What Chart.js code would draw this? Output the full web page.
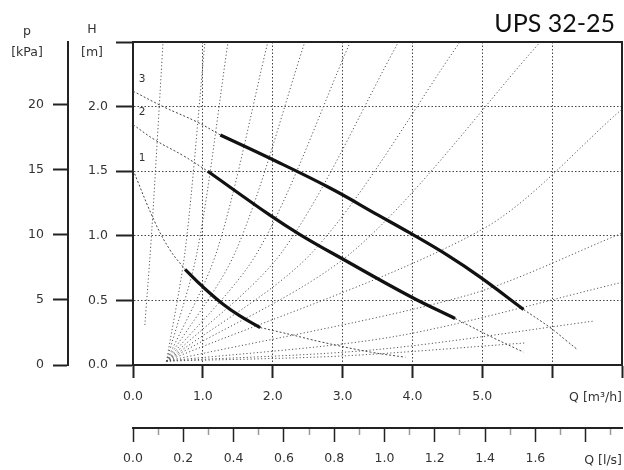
<!DOCTYPE html>
<html>
<head>
<meta charset="utf-8">
<script src="https://cdn.jsdelivr.net/npm/chart.js@4.4.1/dist/chart.umd.min.js"></script>
<style>
  html, body { margin: 0; padding: 0; background: #fff; }
  canvas { display: block; }
</style>
</head>
<body>
<canvas id="pumpChart" width="624" height="470"></canvas>
<script>
const chartTitle = "UPS 32-25";

// pump curves for speed 1..3, Q in m3/h, H in m
const q3 = [1.25, 1.96, 2.82, 3.51, 3.97, 4.50, 4.97, 5.59];
const h3 = [1.78, 1.60, 1.37, 1.16, 1.02, 0.85, 0.68, 0.43];
const q2 = [1.07, 1.96, 2.39, 2.97, 3.97, 4.61];
const h2 = [1.50, 1.16, 1.01, 0.83, 0.53, 0.36];
const q1 = [0.745, 0.99, 1.29, 1.53, 1.82];
const h1 = [0.74, 0.61, 0.47, 0.38, 0.29];

// dashed parts of the curves, before and after the working range
const q3a = [0, 0.43, 0.92, 1.25];
const h3a = [2.12, 2.00, 1.88, 1.78];
const q2a = [0, 0.32, 0.72, 1.07];
const h2a = [1.86, 1.74, 1.62, 1.50];
const q1a = [0, 0.31, 0.53, 0.745];
const h1a = [1.51, 1.11, 0.89, 0.74];
const q3b = [5.59, 5.97, 6.20, 6.36];
const h3b = [0.43, 0.29, 0.19, 0.12];
const q2b = [4.61, 5.16, 5.59];
const h2b = [0.36, 0.21, 0.10];
const q1b = [1.82, 2.30, 2.68, 3.40, 3.90];
const h1b = [0.29, 0.23, 0.18, 0.10, 0.06];

// dotted fan of background curves, all starting near the same point
const fanQ0 = 0.48;
const fanH0 = 0.03;
const fanMidQ = [0.75, 0.92, 1.20, 1.47, 1.79, 2.14, 2.58, 3.15, 5.00, 4.79, 3.74, 3.50, 3.00];
const fanMidH = [0.90, 0.88, 0.88, 0.88, 0.88, 0.88, 0.88, 0.88, 1.05, 0.54, 0.22, 0.12, 0.07];
const fanEndQ = [1.03, 1.36, 1.93, 2.46, 3.11, 3.80, 4.68, 5.83, 7.00, 7.00, 7.00, 6.60, 5.60];
const fanEndH = [2.50, 2.50, 2.50, 2.50, 2.50, 2.50, 2.50, 2.50, 1.98, 1.02, 0.64, 0.34, 0.17];
const steepQ = [0.17, 0.27, 0.43];
const steepH = [0.31, 1.05, 2.50];

const qMax = 7;
const hMax = 2.5;
const kpaMax = 24.8;
const lpsMax = qMax / 3.6;

const pts = (qs, hs) => qs.map((q, i) => ({ x: q, y: hs[i] }));

const thick = (qs, hs) => ({
  data: pts(qs, hs),
  showLine: true,
  borderColor: "#111",
  borderWidth: 3.2,
  pointRadius: 0,
  tension: 0.4,
});
const dashed = (qs, hs) => ({
  data: pts(qs, hs),
  showLine: true,
  borderColor: "#444",
  borderWidth: 1,
  borderDash: [2, 2],
  pointRadius: 0,
  tension: 0.4,
});
const dotted = (data) => ({
  data: data,
  showLine: true,
  borderColor: "#555",
  borderWidth: 1,
  borderDash: [1.2, 2.3],
  pointRadius: 0,
  tension: 0.3,
});

const datasets = [
  thick(q3, h3),
  thick(q2, h2),
  thick(q1, h1),
  dashed(q3a, h3a),
  dashed(q2a, h2a),
  dashed(q1a, h1a),
  dashed(q3b, h3b),
  dashed(q2b, h2b),
  dashed(q1b, h1b),
  dotted(pts(steepQ, steepH)),
];
fanEndQ.forEach((q, i) => {
  datasets.push(dotted([
    { x: fanQ0, y: fanH0 },
    { x: fanMidQ[i], y: fanMidH[i] },
    { x: q, y: fanEndH[i] },
  ]));
});

const tickFont = { family: "DejaVu Sans", size: 12.5 };
const ink = "#222";

// frame, title and unit labels
const notes = {
  id: "notes",
  afterDraw(chart) {
    const { ctx, chartArea: area, scales } = chart;
    ctx.save();
    ctx.strokeStyle = ink;
    ctx.lineWidth = 2;
    ctx.beginPath();
    ctx.moveTo(area.left, area.top);
    ctx.lineTo(area.right, area.top);
    ctx.lineTo(area.right, area.bottom);
    ctx.stroke();

    ctx.fillStyle = "#111";
    ctx.font = "25px Lato";
    ctx.textAlign = "right";
    ctx.textBaseline = "alphabetic";
    ctx.fillText(chartTitle, area.right - 7, area.top - 10);

    ctx.fillStyle = "#333";
    ctx.font = '12.5px "DejaVu Sans"';
    ctx.textAlign = "center";
    ctx.textBaseline = "middle";
    ctx.fillText("H", scales.y.left + 24, area.top - 12);
    ctx.fillText("[m]", scales.y.left + 24, area.top + 11);
    ctx.fillText("p", scales.yk.left + 27, area.top - 10);
    ctx.fillText("[kPa]", scales.yk.left + 27, area.top + 11);

    ctx.font = '10.5px "DejaVu Sans"';
    [[q3a, h3a, "3"], [q2a, h2a, "2"], [q1a, h1a, "1"]].forEach(([qs, hs, label]) => {
      ctx.fillText(label, scales.x.getPixelForValue(qs[0]) + 9, scales.y.getPixelForValue(hs[0]) - 12);
    });
    ctx.restore();
  },
};

const fixHeight = (h) => (s) => {
  s.height = h;
  s.paddingLeft = 0;
  s.paddingRight = 0;
};

new Chart(document.getElementById("pumpChart"), {
  type: "scatter",
  data: { datasets },
  options: {
    responsive: false,
    animation: false,
    layout: { padding: { left: 0, right: 2, top: 42, bottom: 0 } },
    plugins: { legend: { display: false }, tooltip: { enabled: false } },
    scales: {
      x: {
        type: "linear",
        position: "bottom",
        weight: 0,
        min: 0,
        max: qMax,
        afterFit: fixHeight(63),
        grid: { color: "#444", lineWidth: 1, tickLength: 13, tickColor: ink, tickWidth: 2 },
        border: { color: ink, width: 2, dash: [1.5, 2] },
        ticks: {
          stepSize: 1, autoSkip: false, maxRotation: 0, padding: 11,
          color: "#333", font: tickFont,
          callback: (v) => (v <= 5 ? v.toFixed(1) : ""),
        },
        title: { display: true, text: "Q [m³/h]", align: "end", color: "#333", font: tickFont, padding: { top: 0, bottom: 23 } },
      },
      xl: {
        type: "linear",
        position: "bottom",
        weight: 1,
        min: 0,
        max: lpsMax,
        afterFit: fixHeight(42),
        grid: {
          drawOnChartArea: false,
          tickLength: 14,
          tickWidth: 1.5,
          tickColor: (c) => (Math.round(c.tick.value * 10) % 2 ? "#999" : ink),
          tickBorderDash: (c) => (Math.round(c.tick.value * 10) % 2 ? [6, 20] : []),
        },
        border: { color: ink, width: 2 },
        ticks: {
          stepSize: 0.1, includeBounds: false, autoSkip: false, maxRotation: 0, padding: 9,
          color: "#333", font: tickFont,
          callback: (v) => {
            const n = Math.round(v * 10);
            return n % 2 || n > 16 ? "" : v.toFixed(1);
          },
        },
        title: { display: true, text: "Q [l/s]", align: "end", color: "#333", font: tickFont, padding: { top: 0, bottom: 2 } },
      },
      y: {
        type: "linear",
        position: "left",
        weight: 0,
        min: 0,
        max: hMax,
        afterFit: (s) => { s.width = 65; },
        grid: { color: "#444", lineWidth: 1, tickLength: 17, tickColor: ink, tickWidth: 2 },
        border: { color: ink, width: 2, dash: [1.5, 2] },
        ticks: {
          stepSize: 0.5, autoSkip: false, padding: 8,
          color: "#333", font: tickFont,
          callback: (v) => (v < hMax ? v.toFixed(1) : ""),
        },
      },
      yk: {
        type: "linear",
        position: "left",
        weight: 1,
        min: 0,
        max: kpaMax,
        afterFit: (s) => { s.width = 68; },
        grid: { drawOnChartArea: false, tickLength: 15, tickColor: ink, tickWidth: 2 },
        border: { color: ink, width: 2 },
        ticks: {
          stepSize: 5, includeBounds: false, autoSkip: false, padding: 9,
          color: "#333", font: tickFont,
        },
      },
    },
  },
  plugins: [notes],
});
</script>
</body>
</html>
